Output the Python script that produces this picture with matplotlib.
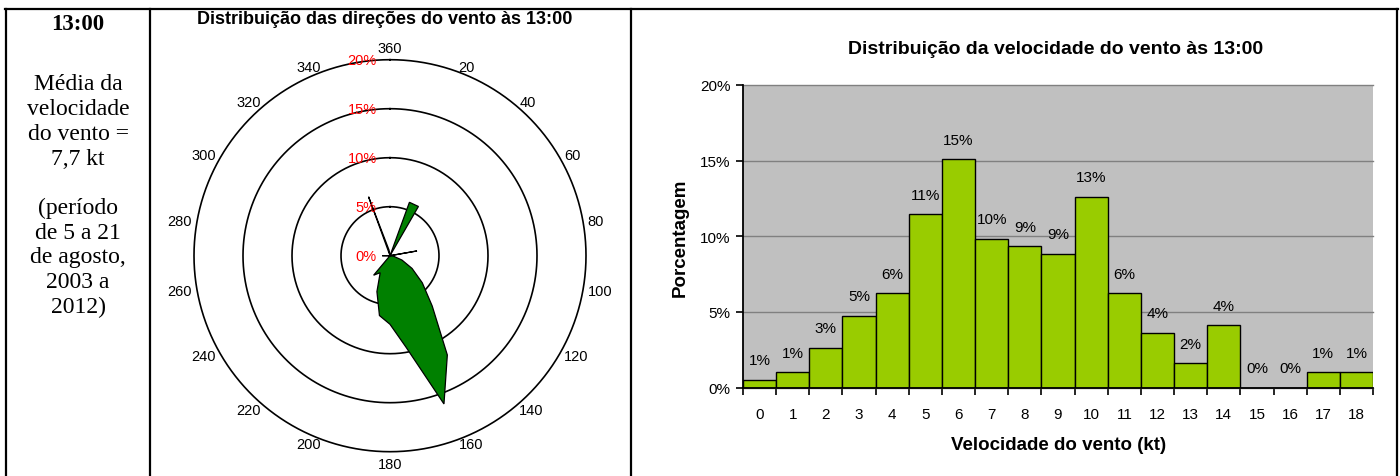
import matplotlib
matplotlib.use('Agg')
import matplotlib.pyplot as plt
import numpy as np
from matplotlib.lines import Line2D

plt.rcParams['font.family'] = ['Liberation Sans', 'DejaVu Sans']

# rosa dos ventos: direcao (graus) e porcentagem
directions = [0, 10, 20, 30, 40, 50, 60, 70, 80, 90, 100, 110, 120, 130, 140,
              150, 160, 170, 180, 190, 200, 210, 220, 230, 240, 250, 260, 270,
              280, 290, 300, 310, 320, 330, 340, 350]
dir_pct = [0, 0, 5.8, 5.8, 0, 0, 0, 0, 2.8, 0, 0.4, 1.3, 2.6, 4.3, 6.7,
           11.7, 16.1, 9.5, 7.0, 6.2, 3.9, 2.0, 2.6, 0, 0, 0, 0, 0.8,
           0, 0, 0, 0, 0, 0, 6.4, 0.6]
ring_levels = [5, 10, 15, 20]

# distribuicao da velocidade
speeds = list(range(19))
speed_pct = [0.51, 1.01, 2.62, 4.74, 6.22, 11.44, 15.08, 9.83, 9.35, 8.84,
             12.6, 6.22, 3.62, 1.61, 4.12, 0, 0, 1.01, 1.01]

side_title = '13:00'
side_lines = ['Média da', 'velocidade', 'do vento =', '7,7 kt', '',
              '(período', 'de 5 a 21', 'de agosto,', '2003 a', '2012)']

W, H = 1400, 477
fig = plt.figure(figsize=(W / 100, H / 100), dpi=100)


def fx(px):
    return px / W


def fy(py):
    return 1 - py / H


# table borders
for x0, y0, x1, y1 in [(5, 9.5, 1398, 9.5), (6, 9.5, 6, 477), (150, 9.5, 150, 477),
                       (631, 9.5, 631, 477), (1397, 9.5, 1397, 477)]:
    fig.add_artist(Line2D([fx(x0), fx(x1)], [fy(y0), fy(y1)], color='black',
                          lw=1.6, transform=fig.transFigure))

# left column
fig.text(fx(78), fy(25), side_title, family='Liberation Serif', fontsize=16.5,
         fontweight='bold', ha='center', va='center')
for i, line in enumerate(side_lines):
    fig.text(fx(78), fy(85 + i * 24.7), line, family='Liberation Serif',
             fontsize=17, ha='center', va='center')

# wind rose
ax = fig.add_axes([fx(194), fy(452.7), fx(392), 392 / H], projection='polar')
ax.set_theta_zero_location('N')
ax.set_theta_direction(-1)
ax.set_ylim(0, 20)
ax.grid(False)
ax.spines['polar'].set_visible(False)
ax.set_xticks([])
ax.set_yticks([])

theta = np.linspace(0, 2 * np.pi, 361)
for r in ring_levels:
    ax.plot(theta, np.full_like(theta, r), color='black', lw=1.2, zorder=2,
            clip_on=False)

th = np.deg2rad(directions + [directions[0]])
rr = dir_pct + [dir_pct[0]]
ax.fill(th, rr, facecolor='#008000', edgecolor='black', lw=0.9, zorder=3)

for d in range(0, 360, 20):
    if d == 0:
        ha, va = 'center', 'bottom'
    elif d == 180:
        ha, va = 'center', 'top'
    else:
        ha, va = ('left' if d < 180 else 'right'), 'center'
    ax.text(np.deg2rad(d), 20.5, '360' if d == 0 else str(d), ha=ha,
            va=va, fontsize=10.5, clip_on=False)
for r in [0] + ring_levels:
    ax.annotate(f'{r}%', xy=(0, r), xytext=(-9.5, 0), textcoords='offset points',
                ha='right', va='center', color='red', fontsize=10.5, zorder=4,
                annotation_clip=False)

fig.text(fx(385), fy(19), 'Distribuição das direções do vento às 13:00',
         ha='center', va='center', fontsize=13, fontweight='bold')

# speed histogram
bx = fig.add_axes([fx(743), fy(388.5), fx(630), 302.5 / H])
bx.set_facecolor('#c0c0c0')
bx.bar(speeds, speed_pct, width=1.0, color='#99cc00', edgecolor='black', lw=1,
       zorder=3)
for s, v in zip(speeds, speed_pct):
    bx.annotate(f'{v:.0f}%', xy=(s, v), xytext=(0, 14), textcoords='offset points',
                ha='center', va='center', fontsize=11)
bx.set_xlim(-0.5, 18.5)
bx.set_ylim(0, 20)
bx.set_yticks([0, 5, 10, 15, 20])
bx.set_yticklabels([f'{t}%' for t in [0, 5, 10, 15, 20]], fontsize=11)
bx.set_xticks(speeds)
bx.set_xticklabels([str(s) for s in speeds], fontsize=11)
bx.set_xticks(np.arange(-0.5, 19, 1), minor=True)
bx.tick_params(axis='x', which='major', length=0, pad=14)
bx.tick_params(axis='x', which='minor', length=5, width=1.2, direction='out')
bx.tick_params(axis='y', length=5, width=1.2, direction='out', pad=4)
bx.yaxis.grid(True, color='#808080', lw=1, zorder=0, clip_on=False)
bx.set_axisbelow(True)
for side in ['top', 'right']:
    bx.spines[side].set_visible(False)
for side in ['left', 'bottom']:
    bx.spines[side].set_linewidth(1.3)
    bx.spines[side].set_zorder(4)

fig.text(fx(1056), fy(50), 'Distribuição da velocidade do vento às 13:00',
         ha='center', va='center', fontsize=14, fontweight='bold')
fig.text(fx(680), fy(238), 'Porcentagem', rotation=90, ha='center', va='center',
         fontsize=13.5, fontweight='bold')
fig.text(fx(1059), fy(446), 'Velocidade do vento (kt)', ha='center', va='center',
         fontsize=13.5, fontweight='bold')

fig.savefig('out.png', dpi=100)
